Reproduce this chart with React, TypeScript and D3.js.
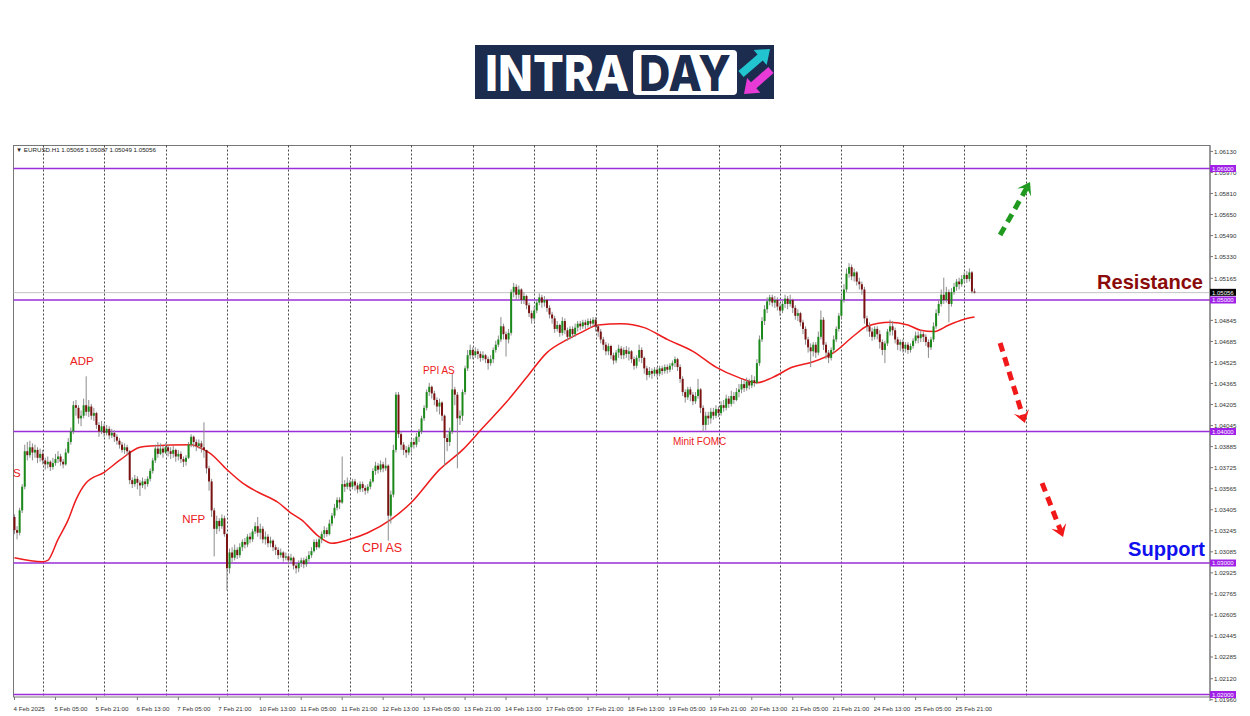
import React from "react";
import * as d3 from "d3";

// EURUSD H1 – prices stored as pips above 1.0000 (price = 1 + v / 10000)
const FIRST_OPEN = 335;
const CLOSE = [
  325,323,340,358,385,382,388,384,386,380,383,
  378,375,377,373,376,379,381,377,375,384,
  392,400,420,418,410,
  412,420,415,419,412,414,
  405,400,404,399,402,397,399,396,393,
  390,386,388,385,
  363,360,364,361,359,362,360,364,
  370,378,387,383,
  387,384,388,385,383,386,381,383,379,377,380,
  390,396,392,389,391,
  388,386,372,362,340,326,
  332,328,334,322,
  296,308,
  304,310,306,312,
  316,314,320,318,324,328,323,
  326,318,320,315,317,312,310,306,308,304,305,
  302,304,298,296,300,
  302,299,303,306,309,
  316,312,318,322,325,322,330,336,
  342,348,346,360,
  358,361,358,362,359,356,360,357,355,358,362,
  370,374,371,375,
  372,374,336,352,386,428,
  398,390,386,384,388,
  392,390,396,400,410,418,
  430,434,429,424,419,422,412,
  395,392,400,432,428,410,412,430,448,458,
  462,458,461,459,456,458,455,452,455,
  462,466,470,480,474,470,475,506,
  510,504,508,500,503,496,490,486,492,
  498,502,498,500,494,489,486,478,481,475,
  484,477,472,478,474,479,482,480,483,481,484,482,485,480,
  476,470,466,461,465,458,454,460,463,458,462,459,461,455,450,456,462,456,448,443,446,444,447,444,448,446,449,447,450,452,455,
  449,440,430,426,432,428,423,427,432,418,405,412,410,415,412,417,414,420,418,425,421,427,424,430,432,436,433,438,435,439,437,
  452,470,484,493,499,502,498,500,495,492,497,501,497,500,494,488,490,483,478,470,464,461,466,460,472,485,466,460,456,462,470,478,
  488,500,508,520,525,518,521,514,512,508,486,480,476,472,478,474,468,462,467,476,480,477,470,466,
  468,463,466,462,465,469,473,471,474,472,468,464,470,480,490,497,504,500,506,497,506,510,514,512,516,519,516,521,506.5,505.6,
];
const HIGH = [
  337,328,342,360,390,392,393,391,390,388,387,
  386,380,381,378,380,383,385,383,379,387,
  395,403,423,424,420,
  416,425,442,424,421,418,
  415,407,408,406,405,404,402,401,398,
  395,392,391,390,
  386,365,367,366,363,365,364,366,
  372,380,390,392,
  391,389,391,390,388,389,387,386,385,381,382,
  392,398,397,394,394,
  393,407,386,374,364,342,
  336,334,337,336,
  323,311,
  312,314,312,315,
  318,319,322,323,326,331,335,
  330,328,324,322,320,318,314,312,311,309,308,
  307,307,305,300,302,
  304,304,305,309,312,
  318,318,320,324,328,327,333,338,
  345,350,350,381,
  363,365,363,364,364,361,362,362,359,360,364,
  372,377,376,378,
  377,380,375,355,390,430,
  430,400,392,389,390,
  394,395,399,402,412,420,
  432,437,435,431,426,425,423,
  413,398,403,444,434,430,416,432,450,462,
  466,464,464,463,461,461,459,457,458,
  464,469,473,487,482,476,478,508,
  513,512,511,509,506,504,498,492,495,
  500,505,504,503,501,496,491,488,484,482,
  487,486,479,480,480,482,484,484,485,485,486,486,487,487,
  481,478,472,468,467,466,460,462,466,465,464,465,464,462,457,458,466,464,457,450,449,448,449,449,450,450,451,451,452,454,457,
  456,451,442,432,434,434,430,430,440,433,420,415,415,418,418,420,419,423,424,428,427,431,430,433,436,440,439,441,440,443,442,
  455,473,487,496,502,504,504,503,502,498,500,504,503,504,501,496,493,491,485,480,472,467,468,468,476,492,487,468,462,464,473,480,
  490,503,512,524,528,527,524,522,517,514,510,488,483,479,480,480,477,470,469,478,485,484,479,472,
  470,470,468,468,467,471,476,476,477,476,474,470,472,483,493,500,508,517,510,508,509,513,516,517,519,521,522,524,522,508.7,
];
const LOW = [
  322,318,321,338,356,378,380,378,380,376,377,
  375,371,372,370,371,374,376,374,372,374,
  383,390,398,412,406,
  404,410,412,411,409,408,
  402,396,398,396,397,394,395,392,390,
  387,384,383,382,
  360,357,358,356,351,357,356,358,
  362,368,376,380,
  382,380,383,381,379,380,377,378,376,373,374,
  379,388,388,385,387,
  384,380,368,355,335,305,
  322,324,326,320,
  279,292,
  300,302,303,304,
  309,311,312,315,316,322,320,
  318,315,314,312,312,309,306,303,304,301,302,
  299,300,295,292,293,
  297,296,297,301,304,
  308,310,311,315,319,320,321,328,
  334,340,341,345,
  354,356,355,356,355,353,354,354,352,353,356,
  361,367,368,369,
  369,370,317,330,350,384,
  395,386,382,380,382,
  384,387,388,392,398,408,
  416,427,425,420,415,413,408,
  374,385,389,398,420,372,405,408,428,446,
  455,455,456,455,453,454,452,447,450,
  452,460,464,468,470,457,467,473,
  502,500,501,497,497,493,487,482,484,
  490,496,494,495,491,486,482,475,476,472,
  473,474,469,470,471,472,476,477,478,478,479,479,480,476,
  472,467,462,458,458,455,451,452,456,455,455,456,454,452,447,448,453,452,444,439,441,440,442,441,442,443,444,444,445,447,449,
  446,437,427,422,424,423,420,421,425,414,400,401,405,406,409,410,411,412,415,416,418,419,421,423,426,429,430,431,432,433,434,
  436,450,468,481,490,496,495,494,492,488,490,494,493,495,490,485,484,480,474,466,460,449,457,456,458,470,462,455,452,454,460,468,
  476,486,498,506,517,515,514,511,508,504,482,476,472,469,470,470,463,458,452,465,473,473,467,462,
  461,460,460,459,460,463,467,467,468,468,465,456,462,468,478,488,495,497,498,483,495,504,507,508,510,513,513,514,505,504.9,
];

// Moving average read at sampled bars (pips above 1.0000)
const MA_BAR = [0,11,13,17,21,24,28,35,41,49,53,69,74,76,83,89,95,103,108,112,119,124,131,138,147,155,166,175,183,192,200,208,216,222,228,237,246,255,265,274,283,290,296,304,312,320,328,333,342,349,354,359,365,372,375];
const MA_VAL = [304,301,302,318,333,348,361,369,378,388,389,390,386,384,371,361,354,346,338,333,320,315,318,323,333,346,371,386,403,422,441,460,470,476,481,482,479,470,461,449,441,437,441,449,453,460,473,480,483,481,477,476,481,486,487];

const X_TICK_BARS = [0,16,32,48,64,80,96,112,128,144,160,176,192,208,224,240,256,272,288,304,320,336,352,368];
const X_TICK_LABELS = ["4 Feb 2025","5 Feb 05:00","5 Feb 21:00","6 Feb 13:00","7 Feb 05:00","7 Feb 21:00","10 Feb 13:00","11 Feb 05:00","11 Feb 21:00","12 Feb 13:00","13 Feb 05:00","13 Feb 21:00","14 Feb 13:00","17 Feb 05:00","17 Feb 21:00","18 Feb 13:00","19 Feb 05:00","19 Feb 21:00","20 Feb 13:00","21 Feb 05:00","21 Feb 21:00","24 Feb 13:00","25 Feb 05:00","25 Feb 21:00"];
const DAY_BARS = [11,35,59,83,107,131,155,179,203,227,251,275,299,323,347,371,395];
const Y_TICKS = [1.0613,1.0597,1.0581,1.0565,1.0549,1.0533,1.05165,1.04845,1.04685,1.04525,1.04365,1.04205,1.04045,1.03885,1.03725,1.03565,1.03405,1.03245,1.03085,1.02925,1.02765,1.02605,1.02445,1.02285,1.0212,1.0196];
const LEVELS = [1.06,1.05,1.04,1.03,1.02];
const LAST_PRICE = 1.05056;
const HEADER = "\u25BC EURUSD.H1  1.05065 1.05087 1.05049 1.05056";

const EVENT_LABELS = ["S","ADP","NFP","CPI AS","PPI AS","Minit FOMC"];
const EVENT_BARS = [-0.6,21.7,65.5,135.7,159.6,257.2];
const EVENT_PRICES = [1.03654,1.04506,1.03302,1.03086,1.0444,1.03895];
const EVENT_SIZES = [11.5,11.5,11.5,12.5,10,10];

// scenario arrows: [bar, price] from -> to
const ARROWS = [
  { from: [385, 1.05494], to: [396.7, 1.05897], color: "#1f9a1f" },
  { from: [385, 1.04673], to: [394.7, 1.04065], color: "#f01818" },
  { from: [401.4, 1.03608], to: [409.6, 1.03198], color: "#f01818" },
];

const W = 1250, H = 716;
const LEFT = 13.5, RIGHT = 1210, TOP = 145.5, BOTTOM = 697;

const toP = (v: number) => 1 + v / 10000;

function arrowPoly(x1: number, y1: number, x2: number, y2: number, sw: number, hw: number, hl: number) {
  const dx = x2 - x1, dy = y2 - y1, L = Math.hypot(dx, dy);
  const ux = dx / L, uy = dy / L, px = -uy, py = ux;
  const bx = x2 - ux * hl, by = y2 - uy * hl;
  const pts = [
    [x1 + px * sw / 2, y1 + py * sw / 2],
    [bx + px * sw / 2, by + py * sw / 2],
    [bx + px * hw / 2, by + py * hw / 2],
    [x2, y2],
    [bx - px * hw / 2, by - py * hw / 2],
    [bx - px * sw / 2, by - py * sw / 2],
    [x1 - px * sw / 2, y1 - py * sw / 2],
  ];
  return pts.map((p) => p.join(",")).join(" ");
}

export default function App() {
  const x = d3.scaleLinear().domain([0, 467]).range([14.5, 14.5 + 467 * 2.56]);
  const y = d3.scaleLinear().domain([1.02, 1.06]).range([694.5, 168.5]);
  const fmt = d3.format(".5f");

  const candles = CLOSE.map((c, i) => {
    const o = i === 0 ? FIRST_OPEN : CLOSE[i - 1];
    return {
      i,
      o: toP(o),
      c: toP(c),
      h: toP(Math.max(HIGH[i], o, c)),
      l: toP(Math.min(LOW[i], o, c)),
    };
  });

  const maLine = d3
    .line<number>()
    .x((_, k) => x(MA_BAR[k]))
    .y((v) => y(toP(v)))
    .curve(d3.curveMonotoneX);

  const axisFont = "'Liberation Sans', Arial, sans-serif";
  const logoFont = "Inter, 'Open Sans', 'Liberation Sans', sans-serif";

  return (
    <svg
      width={W}
      height={H}
      style={{ position: "absolute", left: 0, top: 0, background: "#fff" }}
      fontFamily={axisFont}
    >
      <rect x={0} y={0} width={W} height={H} fill="#fff" />

      {/* Logo */}
      <g>
        <rect x={475} y={45} width={299} height={54} fill="#1b2c4f" />
        <text x={485} y={91} fill="#fff" fontSize={50} fontWeight={800} fontFamily={logoFont} textLength={144} lengthAdjust="spacingAndGlyphs">INTRA</text>
        <rect x={633} y={50} width={104} height={45} rx={4} fill="#fff" />
        <text x={639} y={91} fill="#1b2c4f" fontSize={50} fontWeight={800} fontFamily={logoFont} textLength={92} lengthAdjust="spacingAndGlyphs">DAY</text>
        <polygon points={arrowPoly(741, 74, 770, 49, 8, 20, 13)} fill="#22c4cf" />
        <polygon points={arrowPoly(771, 70, 744, 94, 8, 20, 13)} fill="#e83ad6" />
      </g>

      {/* Frame */}
      <rect x={LEFT} y={TOP} width={RIGHT - LEFT} height={BOTTOM - TOP} fill="none" stroke="#777" strokeWidth={1} />

      {/* Day separators */}
      {DAY_BARS.map((b) => (
        <line key={"g" + b} x1={Math.round(x(b)) + 0.5} x2={Math.round(x(b)) + 0.5} y1={TOP} y2={BOTTOM} stroke="#333" strokeWidth={0.9} strokeDasharray="2,2" />
      ))}

      {/* Header */}
      <text x={16} y={152} fontSize={6.2} fill="#222">{HEADER}</text>

      {/* Current price line */}
      <line x1={LEFT} x2={RIGHT} y1={y(LAST_PRICE)} y2={y(LAST_PRICE)} stroke="#c4c4c4" strokeWidth={1} />

      {/* Levels */}
      {LEVELS.map((p) => (
        <line key={"l" + p} x1={LEFT} x2={RIGHT} y1={y(p)} y2={y(p)} stroke="#9a2fd6" strokeWidth={1.6} />
      ))}

      {/* Moving average */}
      <path d={maLine(MA_VAL) || ""} fill="none" stroke="#ee1c1c" strokeWidth={1.5} />

      {/* Candles */}
      {candles.map((d) => {
        const cx = x(d.i);
        const top = y(Math.max(d.o, d.c));
        const bh = Math.max(0.9, Math.abs(y(d.o) - y(d.c)));
        const bull = d.c >= d.o;
        return (
          <g key={"c" + d.i}>
            <line x1={cx} x2={cx} y1={y(d.h)} y2={y(d.l)} stroke="#8c8c8c" strokeWidth={1} />
            <rect x={cx - 1} y={top} width={2} height={bh} fill={bull ? "#1b8a1b" : "#7a1212"} />
          </g>
        );
      })}

      {/* Event labels */}
      {EVENT_LABELS.map((t, k) => (
        <text key={"e" + k} x={x(EVENT_BARS[k])} y={y(EVENT_PRICES[k])} fontSize={EVENT_SIZES[k]} fill="#ec2020">{t}</text>
      ))}

      {/* Resistance / Support */}
      <text x={1203} y={y(1.05084)} textAnchor="end" fontSize={21} fontWeight={700} fill="#8b0a0a" textLength={106} lengthAdjust="spacingAndGlyphs">Resistance</text>
      <text x={1205} y={y(1.03053)} textAnchor="end" fontSize={21} fontWeight={700} fill="#1010ee" textLength={77} lengthAdjust="spacingAndGlyphs">Support</text>

      {/* Scenario arrows */}
      {ARROWS.map((a, k) => {
        const x1 = x(a.from[0]), y1 = y(a.from[1]);
        const x2 = x(a.to[0]), y2 = y(a.to[1]);
        const dx = x2 - x1, dy = y2 - y1, L = Math.hypot(dx, dy);
        const ux = dx / L, uy = dy / L, px = -uy, py = ux;
        const hl = 12, hw = 8;
        const bx = x2 - ux * hl, by = y2 - uy * hl;
        const nx = x2 - ux * hl * 0.55, ny = y2 - uy * hl * 0.55;
        const head = `M${x2},${y2} L${bx + px * hw},${by + py * hw} L${nx},${ny} L${bx - px * hw},${by - py * hw} Z`;
        return (
          <g key={"a" + k}>
            <line x1={x1} y1={y1} x2={nx} y2={ny} stroke={a.color} strokeWidth={5} strokeDasharray="9,6" />
            <path d={head} fill={a.color} />
          </g>
        );
      })}

      {/* Right axis */}
      <line x1={RIGHT} x2={RIGHT} y1={TOP} y2={BOTTOM + 4} stroke="#777" />
      {Y_TICKS.map((p) => (
        <g key={"yt" + p}>
          <line x1={RIGHT} x2={RIGHT + 3} y1={y(p)} y2={y(p)} stroke="#777" />
          <text x={RIGHT + 4} y={y(p) + 2.2} fontSize={6.2} fill="#333">{fmt(p)}</text>
        </g>
      ))}
      {LEVELS.map((p) => (
        <g key={"lb" + p}>
          <rect x={RIGHT} y={y(p) - 3.5} width={26} height={7} fill="#a020e8" />
          <text x={RIGHT + 2} y={y(p) + 2.2} fontSize={6} fill="#fff">{fmt(p)}</text>
        </g>
      ))}
      <rect x={RIGHT} y={y(LAST_PRICE) - 3.8} width={26} height={7} fill="#000" />
      <text x={RIGHT + 2} y={y(LAST_PRICE) + 1.9} fontSize={6} fill="#fff">{fmt(LAST_PRICE)}</text>

      {/* Bottom axis */}
      {X_TICK_BARS.map((b, k) => (
        <g key={"xt" + b}>
          <line x1={x(b)} x2={x(b)} y1={BOTTOM} y2={BOTTOM + 3} stroke="#777" />
          <text x={x(b) - 1} y={711} fontSize={6.2} fill="#333">{X_TICK_LABELS[k]}</text>
        </g>
      ))}
    </svg>
  );
}
